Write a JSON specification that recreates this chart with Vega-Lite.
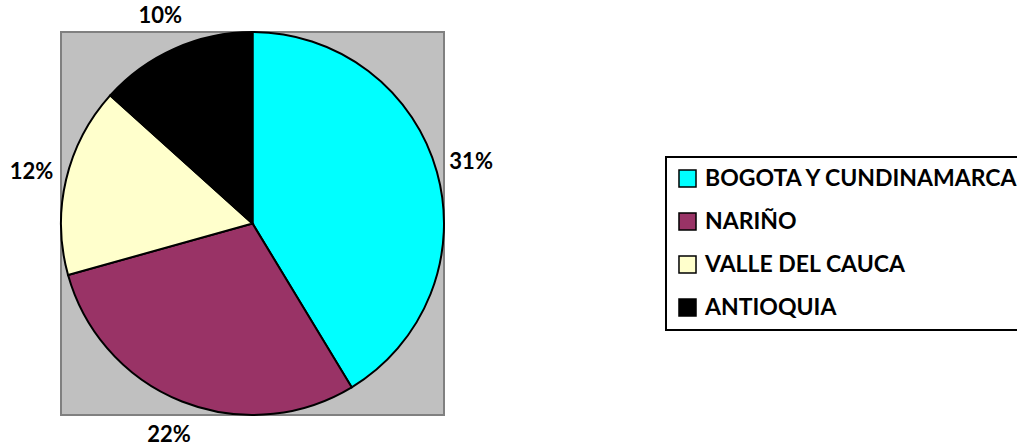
{
  "$schema": "https://vega.github.io/schema/vega-lite/v6.json",
  "width": 383,
  "height": 383,
  "autosize": {"type": "none"},
  "padding": {"left": 61, "top": 32, "right": 573, "bottom": 31},
  "background": "white",
  "view": {"fill": "#c0c0c0", "stroke": "#808080", "strokeWidth": 2},
  "data": {
    "values": [
      {"region": "BOGOTA Y CUNDINAMARCA", "pct": 31, "label": "31%", "orden": 1},
      {"region": "NARIÑO", "pct": 22, "label": "22%", "orden": 2},
      {"region": "VALLE DEL CAUCA", "pct": 12, "label": "12%", "orden": 3},
      {"region": "ANTIOQUIA", "pct": 10, "label": "10%", "orden": 4}
    ]
  },
  "encoding": {
    "theta": {"field": "pct", "type": "quantitative", "stack": true},
    "order": {"field": "orden", "type": "quantitative"}
  },
  "layer": [
    {
      "mark": {"type": "arc", "stroke": "black", "strokeWidth": 2},
      "encoding": {
        "color": {
          "field": "region",
          "type": "nominal",
          "sort": null,
          "scale": {
            "domain": ["BOGOTA Y CUNDINAMARCA", "NARIÑO", "VALLE DEL CAUCA", "ANTIOQUIA"],
            "range": ["#00ffff", "#993366", "#ffffcc", "#000000"]
          },
          "legend": {
            "title": null,
            "orient": "none",
            "legendX": 605,
            "legendY": 125,
            "symbolType": "square",
            "symbolSize": 290,
            "symbolStrokeColor": "black",
            "symbolStrokeWidth": 1.5,
            "labelFont": "Lato",
            "labelFontSize": 23,
            "labelFontWeight": "bold",
            "labelColor": "black",
            "labelOffset": 6,
            "labelLimit": 0,
            "rowPadding": 18,
            "padding": 10,
            "fillColor": "white",
            "strokeColor": "black"
          }
        }
      }
    },
    {
      "mark": {"type": "text", "radius": 227, "font": "Lato", "fontSize": 22, "fontWeight": "bold", "align": "center", "baseline": "middle", "color": "black"},
      "encoding": {
        "text": {"field": "label", "type": "nominal"}
      }
    }
  ],
  "config": {
    "legend": {"strokeWidth": 2}
  }
}
